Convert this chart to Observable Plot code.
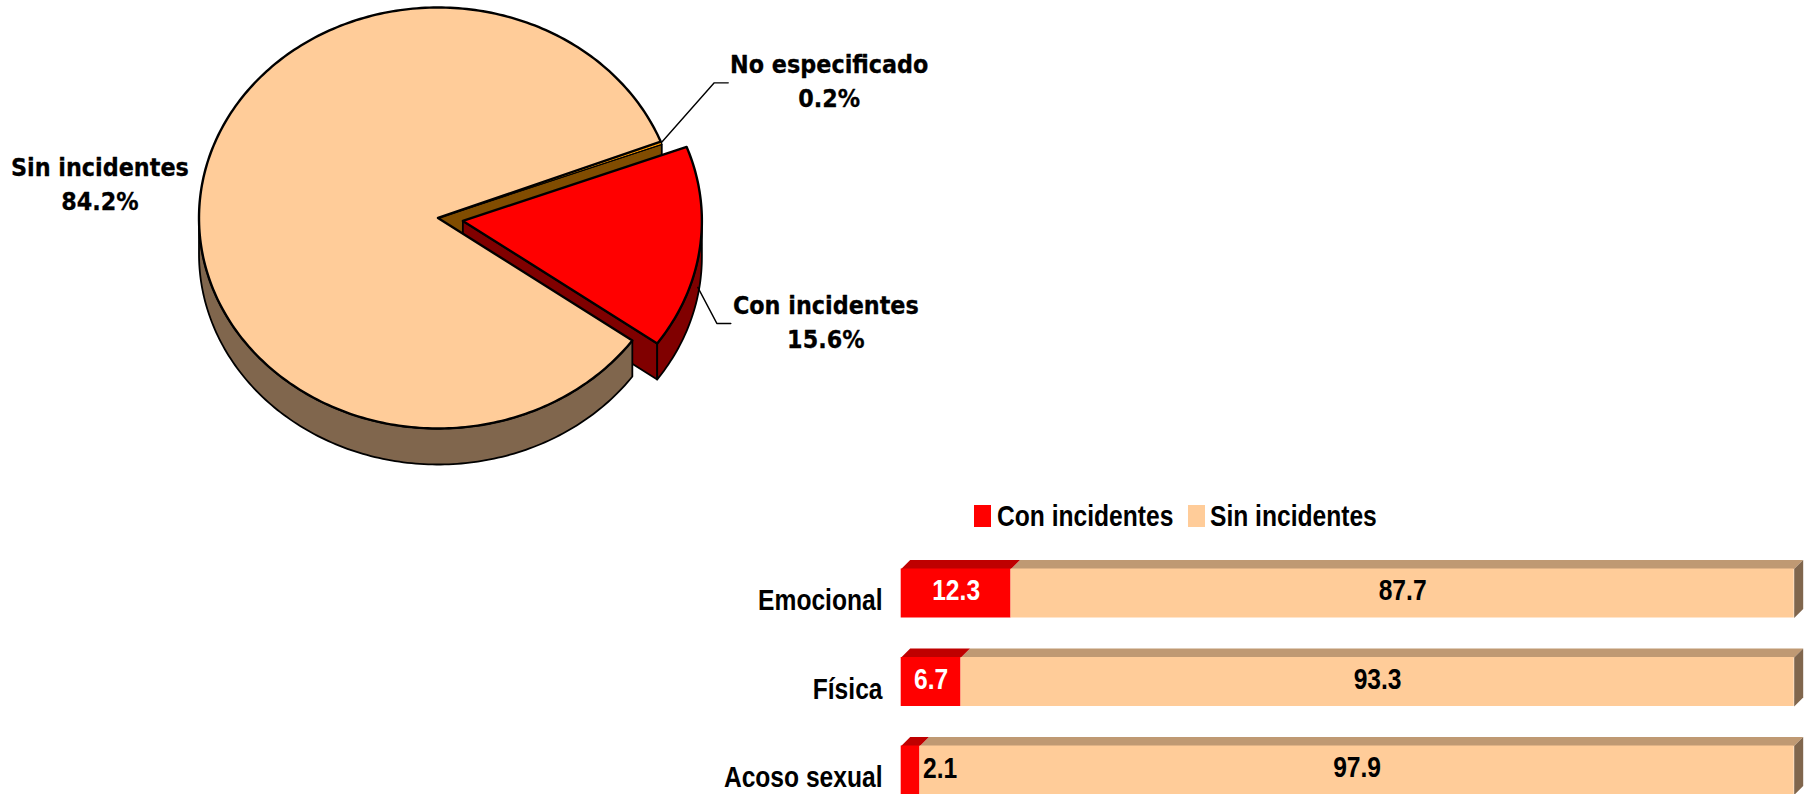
<!DOCTYPE html>
<html>
<head>
<meta charset="utf-8">
<script src="https://cdn.jsdelivr.net/npm/d3@7"></script>
<script src="https://cdn.jsdelivr.net/npm/@observablehq/plot@0.6"></script>
<style>
  html, body { margin: 0; padding: 0; background: #fff; overflow: hidden; width: 1808px; height: 794px; }
  #stage { position: relative; width: 1808px; height: 794px; }
  #stage svg { position: absolute; max-width: none; background: transparent; }
  .legend { position: absolute; font: bold 30px "Liberation Sans", sans-serif; line-height: 34px; color: #000; white-space: nowrap; transform: scaleX(0.82); transform-origin: left center; }
  .swatch { position: absolute; width: 17px; height: 22px; }
</style>
</head>
<body>
<div id="stage"></div>
<script>
// ---- pie data ----
const pieLabels = ["Sin incidentes", "No especificado", "Con incidentes"];
const pieValues = [84.2, 0.2, 15.6];
// ---- bar data ----
const barCategories = ["Emocional", "Física", "Acoso sexual"];
const conValues = [12.3, 6.7, 2.1];
const sinValues = [87.7, 93.3, 97.9];
const seriesNames = ["Con incidentes", "Sin incidentes"];

const stage = document.getElementById("stage");
const rad = Math.PI / 180;

// squeeze text horizontally (the reference uses condensed glyphs); text stays real text
function squeeze(root, factor) {
  root.querySelectorAll("text").forEach(t => {
    const len = t.getComputedTextLength();
    if (len > 0) {
      t.setAttribute("textLength", (len * factor).toFixed(2));
      t.setAttribute("lengthAdjust", "spacingAndGlyphs");
    }
  });
}

// ---------- PIE ----------
const W = 1000, H = 480, cx = 437.5, cy = 217.5, rx = 239, ry = 210.5;
const depth = 36 / ry, explode = 0.105, startDeg = -35.6;

// clockwise slice angles, in degrees (math convention)
let cursor = startDeg;
const slices = pieValues.map((v, i) => {
  const a0 = cursor, a1 = cursor - v * 3.6;
  cursor = a1;
  return {label: pieLabels[i], value: v, a0, a1, mid: (a0 + a1) / 2};
});
const [sin, noe, con] = slices;

const pt = (a, ox = 0, oy = 0) => [Math.cos(a * rad) + ox, Math.sin(a * rad) + oy];
function arc(a0, a1, ox = 0, oy = 0) {
  const n = Math.max(2, Math.ceil(Math.abs(a1 - a0)));
  return d3.range(n + 1).map(i => pt(a0 + (a1 - a0) * i / n, ox, oy));
}
const topFace = (s, ox = 0, oy = 0) => [[ox, oy], ...arc(s.a0, s.a1, ox, oy)];
const wall = (a0, a1, ox = 0, oy = 0) => [...arc(a0, a1, ox, oy), ...arc(a1, a0, ox, oy - depth)];
const radial = (a, ox = 0, oy = 0) => {
  const p = pt(a, ox, oy);
  return [[ox, oy], p, [p[0], p[1] - depth], [ox, oy - depth]];
};

const ex = explode * Math.cos(con.mid * rad), ey = explode * Math.sin(con.mid * rad);
const poly = (points, fill, strokeWidth = 1.8) =>
  Plot.line(points, {fill, stroke: "#000", strokeWidth, curve: "linear-closed", strokeLinejoin: "round"});

// Anchors for leaders and labels, derived from slice angles
const noeA = pt(noe.mid);
const conA = pt(con.mid, ex, ey);
const conLeadStart = [conA[0], conA[1] - depth];
const off = (p, dx, dy) => [p[0] + dx / rx, p[1] - dy / ry];
const pieText = [
  {p: off(pt(sin.mid), -101, -7), s: sin},
  {p: off(noeA, 168, -62), s: noe},
  {p: off(conA, 126, 74), s: con}
];
const pieFont = {fontFamily: "DejaVu Sans", fontWeight: "bold", fontSize: 24, fill: "#000", stroke: "#000", strokeWidth: 0.3, textAnchor: "middle"};

const piePlot = Plot.plot({
  width: W, height: H, margin: 0,
  x: {axis: null, domain: [-cx / rx, (W - cx) / rx]},
  y: {axis: null, domain: [-(H - cy) / ry, cy / ry]},
  marks: [
    poly(radial(noe.a1), "#804C00"),
    poly(topFace(noe), "#FF9900", 1),
    poly(radial(con.a1, ex, ey), "#800000"),
    poly(wall(sin.a0, -180), "#80664D"),
    poly(topFace(sin), "#FFCC99", 2.4),
    poly(wall(con.a1 + 360, 0, ex, ey), "#800000"),
    poly(topFace(con, ex, ey), "#FF0000", 2.4),
    Plot.line([off(noeA, 0, 0), off(noeA, 53, -60), off(noeA, 67, -60)], {stroke: "#000", strokeWidth: 1.4}),
    Plot.line([off(conLeadStart, -2, 3), off(conLeadStart, 17, 39), off(conLeadStart, 31, 39)], {stroke: "#000", strokeWidth: 1.4}),
    Plot.text(pieText, {x: d => d.p[0], y: d => d.p[1], text: d => d.s.label, dy: -16, ...pieFont}),
    Plot.text(pieText, {x: d => d.p[0], y: d => d.p[1], text: d => `${d.s.value.toFixed(1)}%`, dy: 18, ...pieFont})
  ]
});
piePlot.style.left = "0px"; piePlot.style.top = "0px";
stage.append(piePlot);
squeeze(piePlot, 0.93);

// ---------- BARS ----------
const barTop = 540, barH = 254, step = 88.5, firstRow = 593, half = 24.5 / step;
const dep = 9 / 8.93, depY = 9 / step;
const rows = barCategories.map((c, i) => ({c, i, con: conValues[i], sin: sinValues[i]}));
const segments = rows.flatMap(r => [
  {row: r.i, x1: 0, x2: r.con, v: r.con, key: "con"},
  {row: r.i, x1: r.con, x2: r.con + r.sin, v: r.sin, key: "sin"}
]);
const topPts = key => segments.filter(s => s.key === key).flatMap(s => {
  const y = s.row - half;
  return [[s.x1, y], [s.x2, y], [s.x2 + dep, y - depY], [s.x1 + dep, y - depY]].map(p => ({x: p[0], y: p[1], z: s.row}));
});
const sidePts = rows.flatMap(r => {
  const a = r.i - half, b = r.i + half;
  return [[100, a], [100 + dep, a - depY], [100 + dep, b - depY], [100, b]].map(p => ({x: p[0], y: p[1], z: r.i}));
});
const face = (pts, fill) => Plot.line(pts, {x: "x", y: "y", z: "z", fill, stroke: "none", curve: "linear-closed"});
const insideLabels = segments.filter(s => s.v >= 5);
const outsideLabels = segments.filter(s => s.v < 5);
const valueFont = {fontFamily: "Liberation Sans", fontWeight: "bold", fontSize: 30};

const barPlot = Plot.plot({
  width: 1808, height: barH, marginLeft: 900.7, marginRight: 14.3, marginTop: 0, marginBottom: 0,
  x: {axis: null, domain: [0, 100]},
  y: {axis: null, domain: [(barTop + barH - firstRow) / step, (barTop - firstRow) / step]},
  marks: [
    face(topPts("sin"), "#BF9973"),
    face(topPts("con"), "#BF0000"),
    face(sidePts, "#80664D"),
    Plot.rect(segments, {x1: "x1", x2: "x2", y1: d => d.row - half, y2: d => d.row + half, fill: d => d.key === "con" ? "#FF0000" : "#FFCC99"}),
    Plot.text(insideLabels, {x: d => (d.x1 + d.x2) / 2, y: "row", text: d => d.v.toFixed(1), fill: d => d.key === "con" ? "#fff" : "#000", dy: -3, ...valueFont}),
    Plot.text(outsideLabels, {x: "x2", y: "row", text: d => d.v.toFixed(1), fill: "#000", textAnchor: "start", dx: 3, dy: -2, ...valueFont}),
    Plot.axisY({ticks: rows.map(r => r.i), tickFormat: i => barCategories[i], tickSize: 0, tickPadding: 18.7, dy: 7, label: null, anchor: "left", ...valueFont, fill: "#000"})
  ]
});
barPlot.style.left = "0px"; barPlot.style.top = barTop + "px";
stage.append(barPlot);
squeeze(barPlot, 0.82);

// ---------- LEGEND ----------
[[974, 997, "#FF0000"], [1188, 1210, "#FFCC99"]].forEach(([sx, tx, color], i) => {
  const sw = document.createElement("div");
  sw.className = "swatch"; sw.style.cssText = `left:${sx}px;top:505px;background:${color}`;
  const tt = document.createElement("div");
  tt.className = "legend"; tt.style.cssText = `left:${tx}px;top:499px`;
  tt.textContent = seriesNames[i];
  stage.append(sw, tt);
});
</script>
</body>
</html>
